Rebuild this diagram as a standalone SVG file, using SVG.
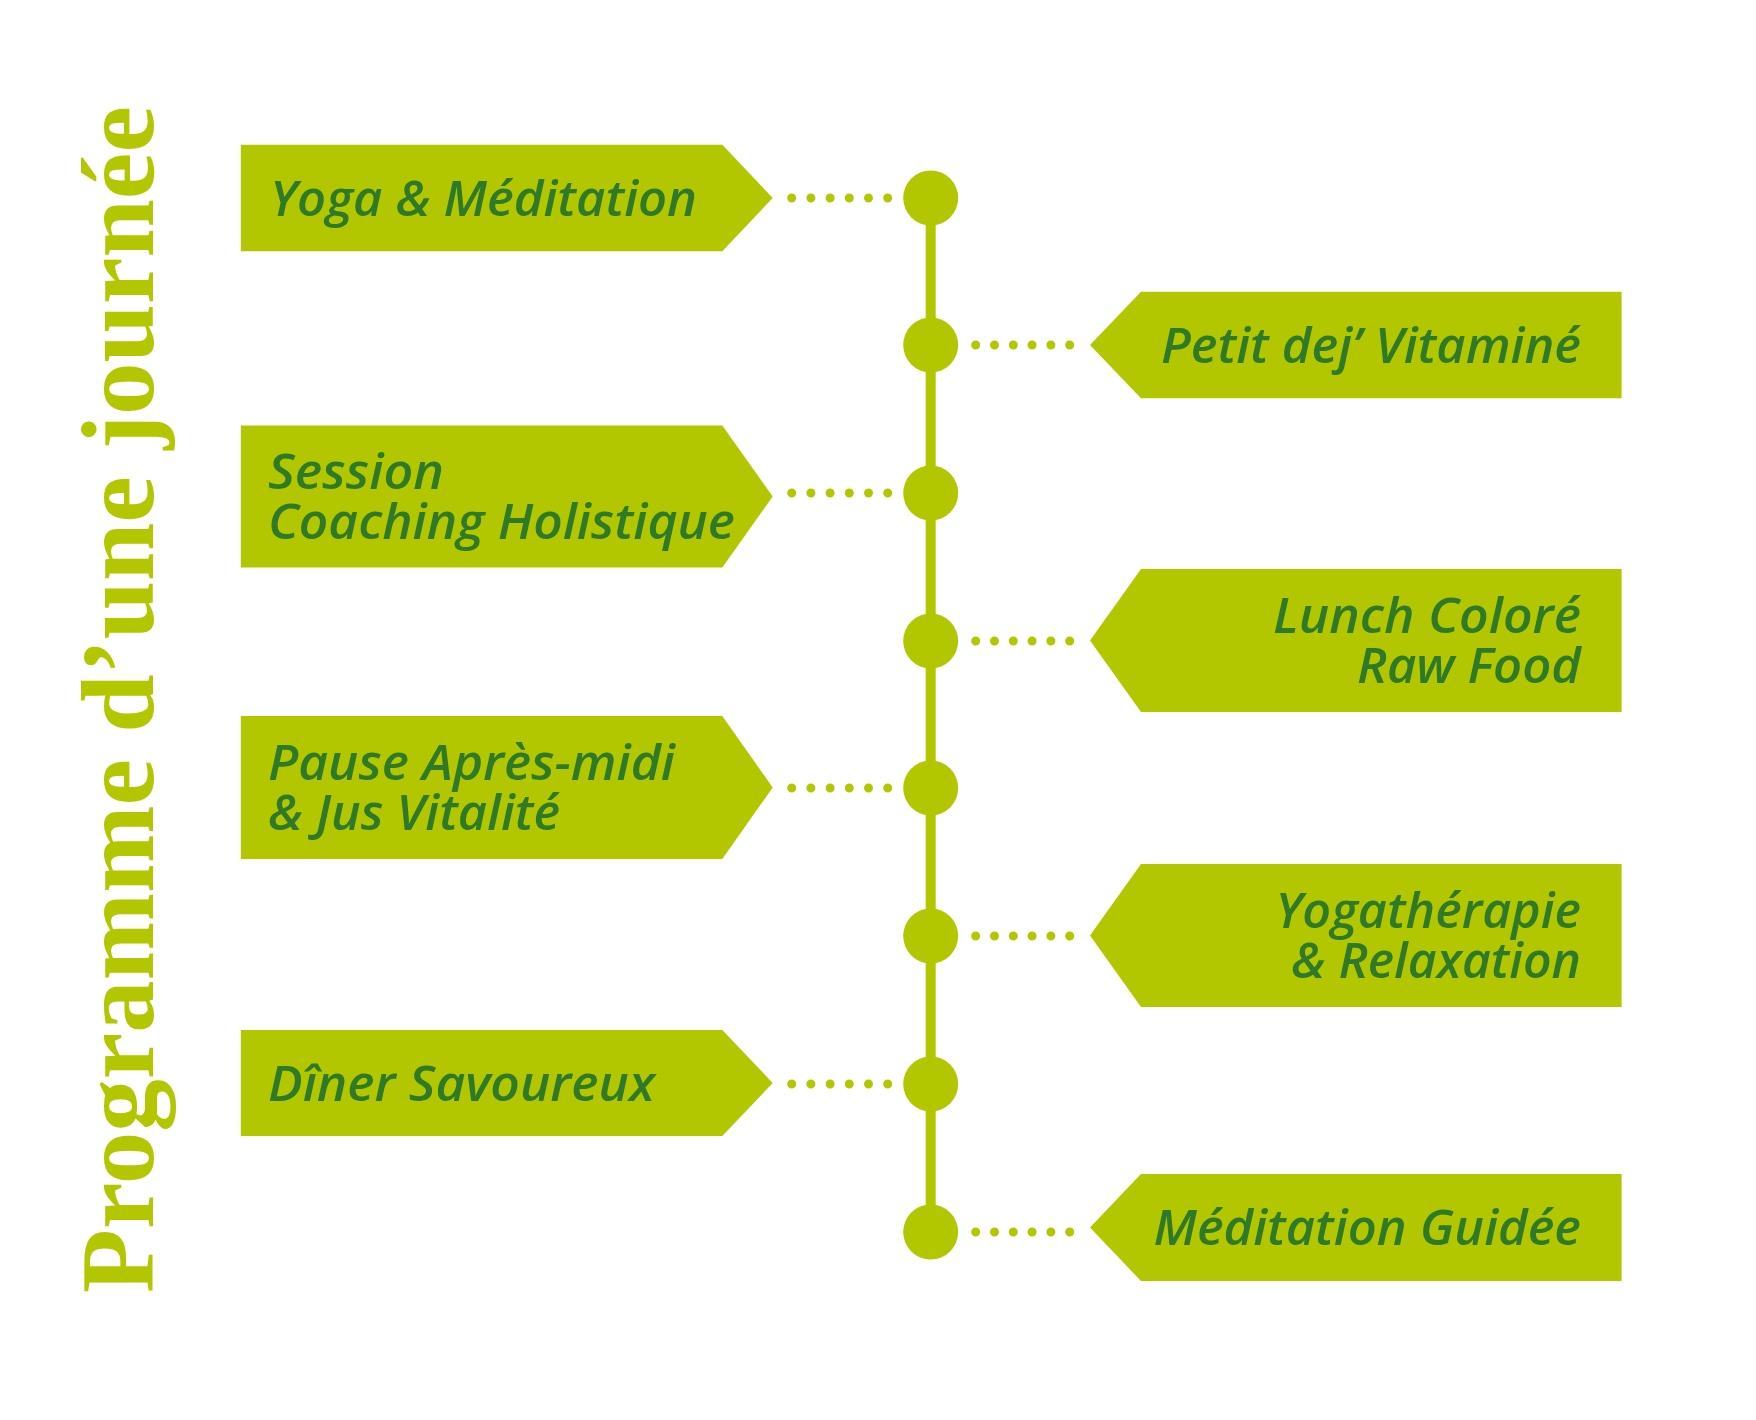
<svg xmlns="http://www.w3.org/2000/svg" width="1756" height="1420" viewBox="0 0 1756 1420">
<style>
.box{fill:#b2c700}
.lbl{font-family:"Open Sans","Noto Sans","DejaVu Sans",sans-serif;font-style:italic;font-weight:600;font-size:48px;fill:#2e7a28}
.title{font-family:"Liberation Serif","Times New Roman",serif;font-weight:bold;font-size:104px;fill:#b2c700}
.spine{stroke:#b2c700;stroke-width:10;fill:none}
.dotsL{stroke:#b2c700;stroke-width:9;stroke-linecap:round;stroke-dasharray:0 19.2;fill:none}
.dotsR{stroke:#b2c700;stroke-width:9;stroke-linecap:round;stroke-dasharray:0 18.8;fill:none}
.knob{fill:#b2c700}
</style>
<rect width="1756" height="1420" fill="#ffffff"/>
<text class="title" transform="translate(153,1293) rotate(-90)" textLength="1187" lengthAdjust="spacingAndGlyphs">Programme d’une journée</text>
<g id="connectors">
<line class="spine" x1="930.7" y1="198" x2="930.7" y2="1232"/>
<path class="dotsL" d="M791.7,198h96.5"/>
<path class="dotsR" d="M975.7,345h94.5"/>
<path class="dotsL" d="M791.7,493h96.5"/>
<path class="dotsR" d="M975.7,641h94.5"/>
<path class="dotsL" d="M791.7,788h96.5"/>
<path class="dotsR" d="M975.7,936h94.5"/>
<path class="dotsL" d="M791.7,1084h96.5"/>
<path class="dotsR" d="M975.7,1232h94.5"/>
<circle class="knob" cx="930.7" cy="198" r="27.5"/>
<circle class="knob" cx="930.7" cy="345" r="27.5"/>
<circle class="knob" cx="930.7" cy="493" r="27.5"/>
<circle class="knob" cx="930.7" cy="641" r="27.5"/>
<circle class="knob" cx="930.7" cy="788" r="27.5"/>
<circle class="knob" cx="930.7" cy="936" r="27.5"/>
<circle class="knob" cx="930.7" cy="1084" r="27.5"/>
<circle class="knob" cx="930.7" cy="1232" r="27.5"/>
</g>
<g id="node-yoga">
<polygon class="box" points="240.8,144.8 722.3,144.8 772.7,198 722.3,251.2 240.8,251.2"/>
<text class="lbl" x="270" y="215.5" textLength="427" lengthAdjust="spacingAndGlyphs">Yoga &amp; Méditation</text>
</g>
<g id="node-petitdej">
<polygon class="box" points="1621.6,291.8 1141,291.8 1090,345 1141,398.2 1621.6,398.2"/>
<text class="lbl" x="1161" y="362.5" textLength="420" lengthAdjust="spacingAndGlyphs">Petit dej’ Vitaminé</text>
</g>
<g id="node-session">
<polygon class="box" points="240.8,425.5 722.3,425.5 772.7,496.5 722.3,567.5 240.8,567.5"/>
<text class="lbl"><tspan x="268" y="488.5" textLength="176" lengthAdjust="spacingAndGlyphs">Session</tspan><tspan x="268" y="538.5" textLength="467" lengthAdjust="spacingAndGlyphs">Coaching Holistique</tspan></text>
</g>
<g id="node-lunch">
<polygon class="box" points="1621.6,569 1141,569 1090,640.5 1141,712 1621.6,712"/>
<text class="lbl"><tspan x="1273" y="633" textLength="308" lengthAdjust="spacingAndGlyphs">Lunch Coloré</tspan><tspan x="1357" y="683" textLength="224" lengthAdjust="spacingAndGlyphs">Raw Food</tspan></text>
</g>
<g id="node-pause">
<polygon class="box" points="240.8,716 722.3,716 772.7,787.5 722.3,859 240.8,859"/>
<text class="lbl"><tspan x="268" y="780" textLength="407" lengthAdjust="spacingAndGlyphs">Pause Après-midi</tspan><tspan x="268" y="830" textLength="292" lengthAdjust="spacingAndGlyphs">&amp; Jus Vitalité</tspan></text>
</g>
<g id="node-yogatherapie">
<polygon class="box" points="1621.6,864 1141,864 1090,935.5 1141,1007 1621.6,1007"/>
<text class="lbl"><tspan x="1275.5" y="928" textLength="305.5" lengthAdjust="spacingAndGlyphs">Yogathérapie</tspan><tspan x="1291" y="978" textLength="290" lengthAdjust="spacingAndGlyphs">&amp; Relaxation</tspan></text>
</g>
<g id="node-diner">
<polygon class="box" points="240.8,1030 722.3,1030 772.7,1083 722.3,1136 240.8,1136"/>
<text class="lbl" x="268" y="1100.5" textLength="387" lengthAdjust="spacingAndGlyphs">Dîner Savoureux</text>
</g>
<g id="node-meditation">
<polygon class="box" points="1621.6,1174 1141,1174 1090,1227.5 1141,1281 1621.6,1281"/>
<text class="lbl" x="1153.5" y="1245" textLength="427.5" lengthAdjust="spacingAndGlyphs">Méditation Guidée</text>
</g>
</svg>
